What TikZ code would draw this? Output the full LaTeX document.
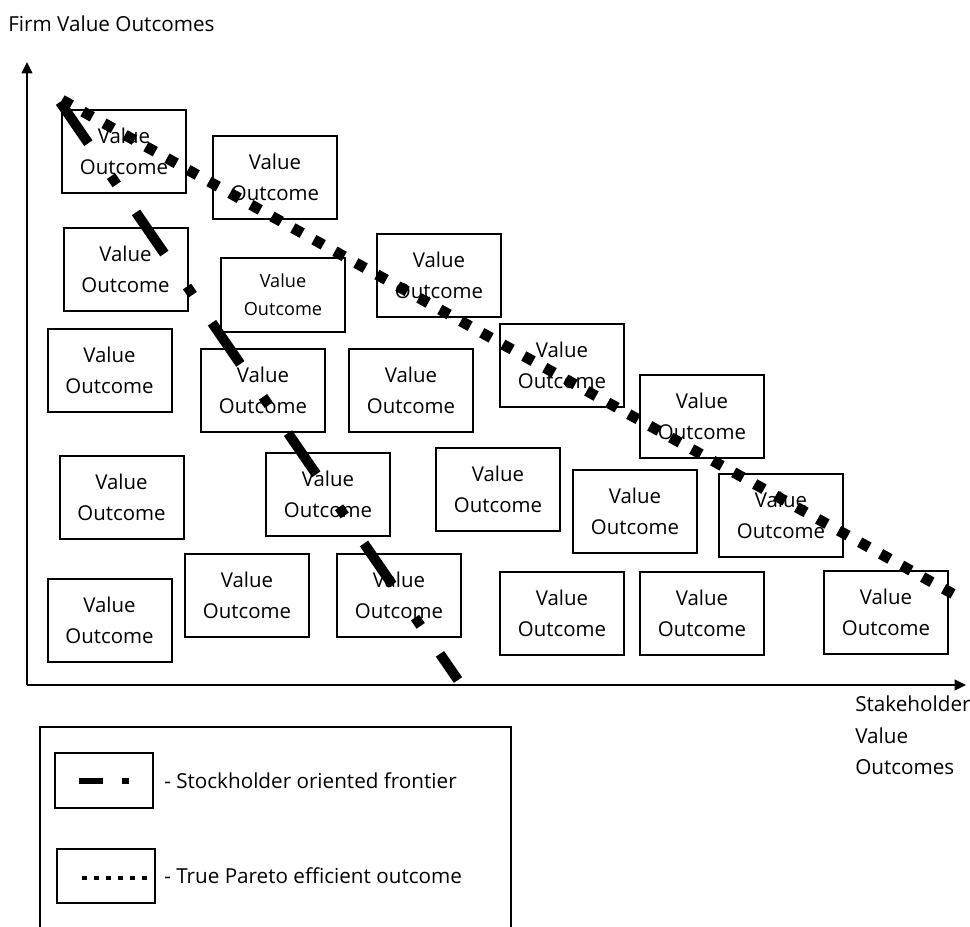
\documentclass[tikz,border=0pt]{standalone}
\usepackage{fontspec}
\setmainfont{Open Sans}
\usetikzlibrary{arrows.meta}
\begin{document}
\begin{tikzpicture}[x=0.75pt,y=-0.75pt,
  txt/.style={font=\fontsize{15.5}{23.5}\selectfont, inner sep=0pt},
  vbox/.style={draw, line width=1.5pt, minimum width=93pt, minimum height=62.25pt, inner sep=0pt, align=center, font=\fontsize{15.3}{23.25}\selectfont},
  smallbox/.style={vbox, minimum height=55.5pt, font=\fontsize{13.6}{21}\selectfont},
  legbox/.style={draw, line width=1.5pt, minimum width=73.5pt, minimum height=41pt, inner sep=0pt},
  axis/.style={line width=1.5pt, -{Triangle[length=8.5pt,width=8pt]}},
  frontier/.style={line width=7.5pt, dash pattern=on 37.5pt off 30pt on 7.5pt off 25.5pt},
  pareto/.style={line width=8pt, dash pattern=on 8pt off 10pt},
  frame/.style={line width=1.5pt}
]
\useasboundingbox (0,0) rectangle (970,926);

% axes
\coordinate (O) at (27,685);
\coordinate (ytip) at (27,62);
\coordinate (xtip) at (966,685);
\draw[axis] (O) -- (ytip);
\draw[axis] (O) -- (xtip);
\node[txt, anchor=base west] (ylab) at (8,31) {Firm Value Outcomes};
\node[txt, anchor=north west, align=left] (xlab) at (855,696) {Stakeholder\\Value\\Outcomes};

% value outcome boxes
\node[vbox] (b1)  at (124,151.5) {Value\\Outcome};
\node[vbox] (b2)  at (275,177.5) {Value\\Outcome};
\node[vbox] (b3)  at (125.5,269) {Value\\Outcome};
\node[smallbox] (b4) at (283,295) {Value\\Outcome};
\node[vbox] (b5)  at (439,275) {Value\\Outcome};
\node[vbox] (b6)  at (109.5,370) {Value\\Outcome};
\node[vbox] (b7)  at (263,390.5) {Value\\Outcome};
\node[vbox] (b8)  at (411,390.5) {Value\\Outcome};
\node[vbox] (b9)  at (562,365.5) {Value\\Outcome};
\node[vbox] (b10) at (702,416) {Value\\Outcome};
\node[vbox] (b11) at (121.5,497.5) {Value\\Outcome};
\node[vbox] (b12) at (328,494) {Value\\Outcome};
\node[vbox] (b13) at (498,489.5) {Value\\Outcome};
\node[vbox] (b14) at (635,511.5) {Value\\Outcome};
\node[vbox] (b15) at (781,515.5) {Value\\Outcome};
\node[vbox] (b16) at (109.5,620.5) {Value\\Outcome};
\node[vbox] (b17) at (247,595) {Value\\Outcome};
\node[vbox] (b18) at (399,595) {Value\\Outcome};
\node[vbox] (b19) at (562,613) {Value\\Outcome};
\node[vbox] (b20) at (702,613) {Value\\Outcome};
\node[vbox] (b21) at (886,612.5) {Value\\Outcome};

% frontiers
\coordinate (fs) at (60,102);
\coordinate (fe) at (458,680);
\draw[frontier] (fs) -- (fe);
\coordinate (ps) at (62,100);
\coordinate (pe) at (964,600);
\draw[pareto] (ps) -- (pe);

% legend
\draw[frame] (40,930) -- (40,727) -- (511,727) -- (511,930);
\node[legbox] (lg1) at (104,780.5) {};
\node[legbox] (lg2) at (106,876) {};
\coordinate (l1s) at (79,781);
\coordinate (l1e) at (129,781);
\draw[line width=4.5pt, dash pattern=on 18pt off 14.5pt on 5pt off 10pt] (l1s) -- (l1e);
\coordinate (l2s) at (82,878);
\coordinate (l2e) at (148,878);
\draw[line width=3.5pt, dash pattern=on 3.75pt off 5.25pt] (l2s) -- (l2e);
\node[txt, anchor=west] (t1) at ([xshift=7.5pt]lg1.east) {- Stockholder oriented frontier};
\node[txt, anchor=west] (t2) at ([xshift=6pt]lg2.east) {- True Pareto efficient outcome};
\end{tikzpicture}
\end{document}
